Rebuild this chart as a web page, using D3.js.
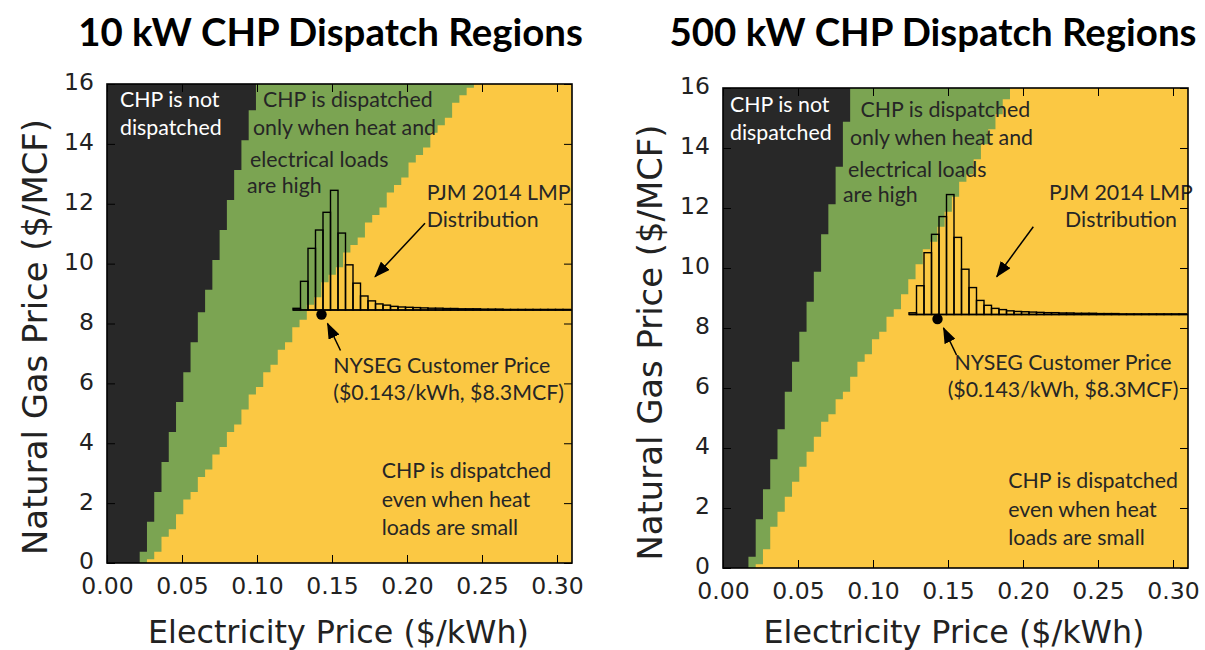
<!DOCTYPE html>
<html>
<head>
<meta charset="utf-8">
<script src="https://cdn.jsdelivr.net/npm/d3@7"></script>
<style>
  body { margin: 0; background: #fff; }
  svg { display: block; }
</style>
</head>
<body>
<svg id="chart" width="1205" height="650"></svg>
<script>
// ---- chart text ----
const titles = ["10 kW CHP Dispatch Regions", "500 kW CHP Dispatch Regions"];
const xLabel = "Electricity Price ($/kWh)";
const yLabel = "Natural Gas Price ($/MCF)";

// ---- axes ----
const elecTicks = [0, 0.05, 0.10, 0.15, 0.20, 0.25, 0.30];
const elecTickLabels = ["0.00", "0.05", "0.10", "0.15", "0.20", "0.25", "0.30"];
const gasTicks = [0, 2, 4, 6, 8, 10, 12, 14, 16];
const gasTickLabels = ["0", "2", "4", "6", "8", "10", "12", "14", "16"];

// ---- dispatch region boundaries ----
// gas price (USD/MCF) knots and the electricity price (USD/kWh) of each boundary there
// 10 kW unit
const offKnots10 = [0, 4, 8, 12, 16];
const offEdge10 = [0.0218, 0.0417, 0.0617, 0.0815, 0.1015];     // not dispatched | high-load only
const heatKnots10 = [0, 4.4, 8.7, 12.35, 16];
const heatEdge10 = [0.028, 0.083, 0.137, 0.190, 0.2426];        // high-load only | always dispatched
// 500 kW unit
const offKnots500 = [0, 4, 8, 12, 16];
const offEdge500 = [0.0171, 0.0355, 0.0540, 0.0720, 0.0868];
const heatKnots500 = [0, 1.6, 4.93, 8.27, 12, 16];
const heatEdge500 = [0.0235, 0.036, 0.069, 0.111, 0.152, 0.1935];

// ---- PJM 2014 LMP distribution: share of hours (%) per 0.005 $/kWh bin ----
const lmpBinStart = 0.124;
const lmpBinWidth = 0.005;
const lmpShare = [0.28, 4.7, 10.1, 13.1, 16.0, 19.6, 12.6, 7.4, 4.4, 2.3, 1.5, 1.0, 0.8,
                  0.6, 0.5, 0.45, 0.4, 0.35, 0.3, 0.3, 0.25, 0.25, 0.2, 0.2, 0.2, 0.15,
                  0.15, 0.15, 0.1, 0.1, 0.1, 0.1, 0.1, 0.1, 0.1, 0.1, 0.1];

// ---- NYSEG customer price (USD/kWh, USD/MCF) ----
const customerPrice = [0.143, 8.3];

// ---------------------------------------------------------------
const svg = d3.select("#chart");
const COL = { off: "#282828", mid: "#7ba452", on: "#fbc843", ink: "#262626" };
const elecMax = 0.31, gasMax = 16;
const cellDx = elecMax / 64, cellDy = 0.25;     // raster resolution of the dispatch map
const histBase = 8.45;                          // gas level the histogram sits on
const histHeight = d3.scaleLinear().domain([0, 20]).range([0, 4.08]);

const ANN_FONT = "Lato, 'Open Sans', sans-serif";
const AX_FONT = "'DejaVu Sans', sans-serif";

// size a font so a sample string spans a given width
function fitSize(text, family, weight, target) {
  const t = svg.append("text").attr("font-family", family).attr("font-weight", weight)
    .attr("font-size", 100).text(text);
  const len = t.node().getComputedTextLength();
  t.remove();
  return 100 * target / len;
}
const annSize = fitSize("NYSEG Customer Price", ANN_FONT, 400, 217);
const titleSize = fitSize(titles[0], ANN_FONT, 700, 505);
const xLabSize = fitSize(xLabel, AX_FONT, 400, 381);
const yLabSize = fitSize(yLabel, AX_FONT, 400, 436);
const tickSize = 23.5;

const defs = svg.append("defs");
defs.append("marker").attr("id", "head")
  .attr("viewBox", "0 0 16 12").attr("refX", 15).attr("refY", 6)
  .attr("markerWidth", 16).attr("markerHeight", 12)
  .attr("markerUnits", "userSpaceOnUse").attr("orient", "auto")
  .append("path").attr("d", "M0,0L16,6L0,12Z").attr("fill", "#000");

const panels = [
  {
    title: titles[0], box: { l: 107, t: 84, r: 572, b: 563 }, titleCx: 330.5,
    yLabX: 47, yLabCy: 337, xLabCx: 338.5,
    off: d3.scaleLinear().domain(offKnots10).range(offEdge10),
    heat: d3.scaleLinear().domain(heatKnots10).range(heatEdge10),
    notes: [
      { color: "#fff", anchor: "start", lines: [["CHP is not", 13, 22.7], ["dispatched", 13, 51]] },
      { color: COL.ink, anchor: "start", lines: [["CHP is dispatched", 156, 22.7], ["only when heat and", 146, 51],
                                                 ["electrical loads", 143, 82.7], ["are high", 140, 109.3]] },
      { color: COL.ink, anchor: "start", lines: [["PJM 2014 LMP", 319.7, 116], ["Distribution", 319.7, 142.7]] },
      { color: COL.ink, anchor: "start", lines: [["NYSEG Customer Price", 226.3, 289.3], ["($0.143/kWh,  $8.3MCF)", 226.3, 316]] },
      { color: COL.ink, anchor: "start", lines: [["CHP is dispatched", 274.7, 394.3], ["even when heat", 274.7, 422.7],
                                                 ["loads are small", 274.7, 451]] }
    ],
    pjmArrow: [[318, 139.3], [268, 192.7]]
  },
  {
    title: titles[1], box: { l: 723, t: 88, r: 1188, b: 568 }, titleCx: 933,
    yLabX: 662, yLabCy: 342.5, xLabCx: 954,
    off: d3.scaleLinear().domain(offKnots500).range(offEdge500),
    heat: d3.scaleLinear().domain(heatKnots500).range(heatEdge500),
    notes: [
      { color: "#fff", anchor: "start", lines: [["CHP is not", 7, 23.7], ["dispatched", 7, 52]] },
      { color: COL.ink, anchor: "start", lines: [["CHP is dispatched", 137.5, 28.7], ["only when heat and", 127, 57],
                                                 ["electrical loads", 125, 88.7], ["are high", 120, 113.7]] },
      { color: COL.ink, anchor: "middle", lines: [["PJM 2014 LMP", 398, 112], ["Distribution", 398, 139]] },
      { color: COL.ink, anchor: "middle", lines: [["NYSEG Customer Price", 340, 282], ["($0.143/kWh,  $8.3MCF)", 340, 308.7]] },
      { color: COL.ink, anchor: "start", lines: [["CHP is dispatched", 285.3, 400.3], ["even when heat", 285.3, 428.7],
                                                 ["loads are small", 285.3, 457]] }
    ],
    pjmArrow: [[310.3, 138.7], [273.7, 188.7]]
  }
];

panels.forEach((p, pi) => {
  const { l, t, r, b } = p.box;
  const x = d3.scaleLinear().domain([0, elecMax]).range([l, r]);
  const y = d3.scaleLinear().domain([0, gasMax]).range([b, t]);
  const g = svg.append("g");

  const clipId = "clip" + pi;
  defs.append("clipPath").attr("id", clipId)
    .append("rect").attr("x", l).attr("y", t).attr("width", r - l).attr("height", b - t);
  const plot = g.append("g").attr("clip-path", `url(#${clipId})`);

  // staircase outline of the region left of a boundary, on the dispatch raster
  const line = d3.line().x(d => x(d[0])).y(d => y(d[1]));
  function regionPoints(edge) {
    const pts = [[0, 0]];
    for (let j = 0; j <= gasMax / cellDy; j++) {
      const gas = j * cellDy;
      const e = edge(gas);
      const n = d3.range(0, 65).filter(i => i * cellDx < e).length;
      const eR = n > 0 ? Math.min((n - 0.5) * cellDx, elecMax) : 0;
      pts.push([eR, Math.max(gas - cellDy / 2, 0)], [eR, Math.min(gas + cellDy / 2, gasMax)]);
    }
    pts.push([0, gasMax]);
    return pts;
  }

  plot.append("rect").attr("x", l).attr("y", t).attr("width", r - l).attr("height", b - t)
    .attr("fill", COL.on);
  plot.append("path").attr("d", line(regionPoints(p.heat)) + "Z").attr("fill", COL.mid);
  plot.append("path").attr("d", line(regionPoints(p.off)) + "Z").attr("fill", COL.off);

  // LMP histogram
  plot.append("g").selectAll("rect").data(lmpShare).join("rect")
    .attr("x", (d, i) => x(lmpBinStart + i * lmpBinWidth))
    .attr("width", x(lmpBinWidth) - x(0))
    .attr("y", d => y(histBase + histHeight(d)))
    .attr("height", d => y(histBase) - y(histBase + histHeight(d)))
    .attr("fill", "none").attr("stroke", "#000").attr("stroke-width", 1.4);
  plot.append("line")
    .attr("x1", x(lmpBinStart)).attr("x2", x(elecMax))
    .attr("y1", y(histBase)).attr("y2", y(histBase))
    .attr("stroke", "#000").attr("stroke-width", 1.6);

  // customer price point
  const cx = x(customerPrice[0]), cy = y(customerPrice[1]);
  plot.append("circle").attr("cx", cx).attr("cy", cy).attr("r", 5.2).attr("fill", "#000");

  // annotations
  p.notes.forEach(n => {
    n.lines.forEach(([txt, dx, dy]) => {
      g.append("text").attr("x", l + dx).attr("y", t + dy)
        .attr("font-family", ANN_FONT).attr("font-size", annSize)
        .attr("fill", n.color).attr("text-anchor", n.anchor)
        .text(txt);
    });
  });

  // arrows
  const arrow = (x1, y1, x2, y2) => g.append("line")
    .attr("x1", x1).attr("y1", y1).attr("x2", x2).attr("y2", y2)
    .attr("stroke", "#000").attr("stroke-width", 1.5).attr("marker-end", "url(#head)");
  arrow(l + p.pjmArrow[0][0], t + p.pjmArrow[0][1], l + p.pjmArrow[1][0], t + p.pjmArrow[1][1]);
  arrow(cx + 19, cy + 36, cx + 6, cy + 9);

  // axes: inward ticks on all four sides
  const styleAxis = sel => {
    sel.select(".domain").remove();
    sel.selectAll(".tick line").attr("stroke", "#000").attr("stroke-width", 1);
    sel.selectAll(".tick text").attr("font-family", AX_FONT).attr("font-size", tickSize).attr("fill", "#222");
  };
  g.append("g").attr("transform", `translate(0,${b})`)
    .call(d3.axisBottom(x).tickValues(elecTicks).tickFormat((d, i) => elecTickLabels[i])
      .tickSizeInner(-8).tickSizeOuter(0).tickPadding(14))
    .call(styleAxis);
  g.append("g").attr("transform", `translate(0,${t})`)
    .call(d3.axisTop(x).tickValues(elecTicks).tickFormat("").tickSizeInner(-8).tickSizeOuter(0))
    .call(styleAxis);
  g.append("g").attr("transform", `translate(${l},0)`)
    .call(d3.axisLeft(y).tickValues(gasTicks).tickFormat((d, i) => gasTickLabels[i])
      .tickSizeInner(-8).tickSizeOuter(0).tickPadding(13))
    .call(styleAxis)
    .call(sel => sel.selectAll(".tick text").attr("dy", "0.25em"));
  g.append("g").attr("transform", `translate(${r},0)`)
    .call(d3.axisRight(y).tickValues(gasTicks).tickFormat("").tickSizeInner(-8).tickSizeOuter(0))
    .call(styleAxis);

  g.append("rect").attr("x", l).attr("y", t).attr("width", r - l).attr("height", b - t)
    .attr("fill", "none").attr("stroke", "#000").attr("stroke-width", 1.6);

  // titles and axis labels
  g.append("text").attr("x", p.titleCx).attr("y", 46).attr("text-anchor", "middle")
    .attr("font-family", ANN_FONT).attr("font-weight", 700).attr("font-size", titleSize)
    .attr("fill", "#000").text(p.title);
  g.append("text").attr("x", p.xLabCx).attr("y", 643).attr("text-anchor", "middle")
    .attr("font-family", AX_FONT).attr("font-size", xLabSize).attr("fill", "#222").text(xLabel);
  g.append("text").attr("transform", `translate(${p.yLabX},${p.yLabCy}) rotate(-90)`)
    .attr("text-anchor", "middle")
    .attr("font-family", AX_FONT).attr("font-size", yLabSize).attr("fill", "#222").text(yLabel);
});
</script>
</body>
</html>
